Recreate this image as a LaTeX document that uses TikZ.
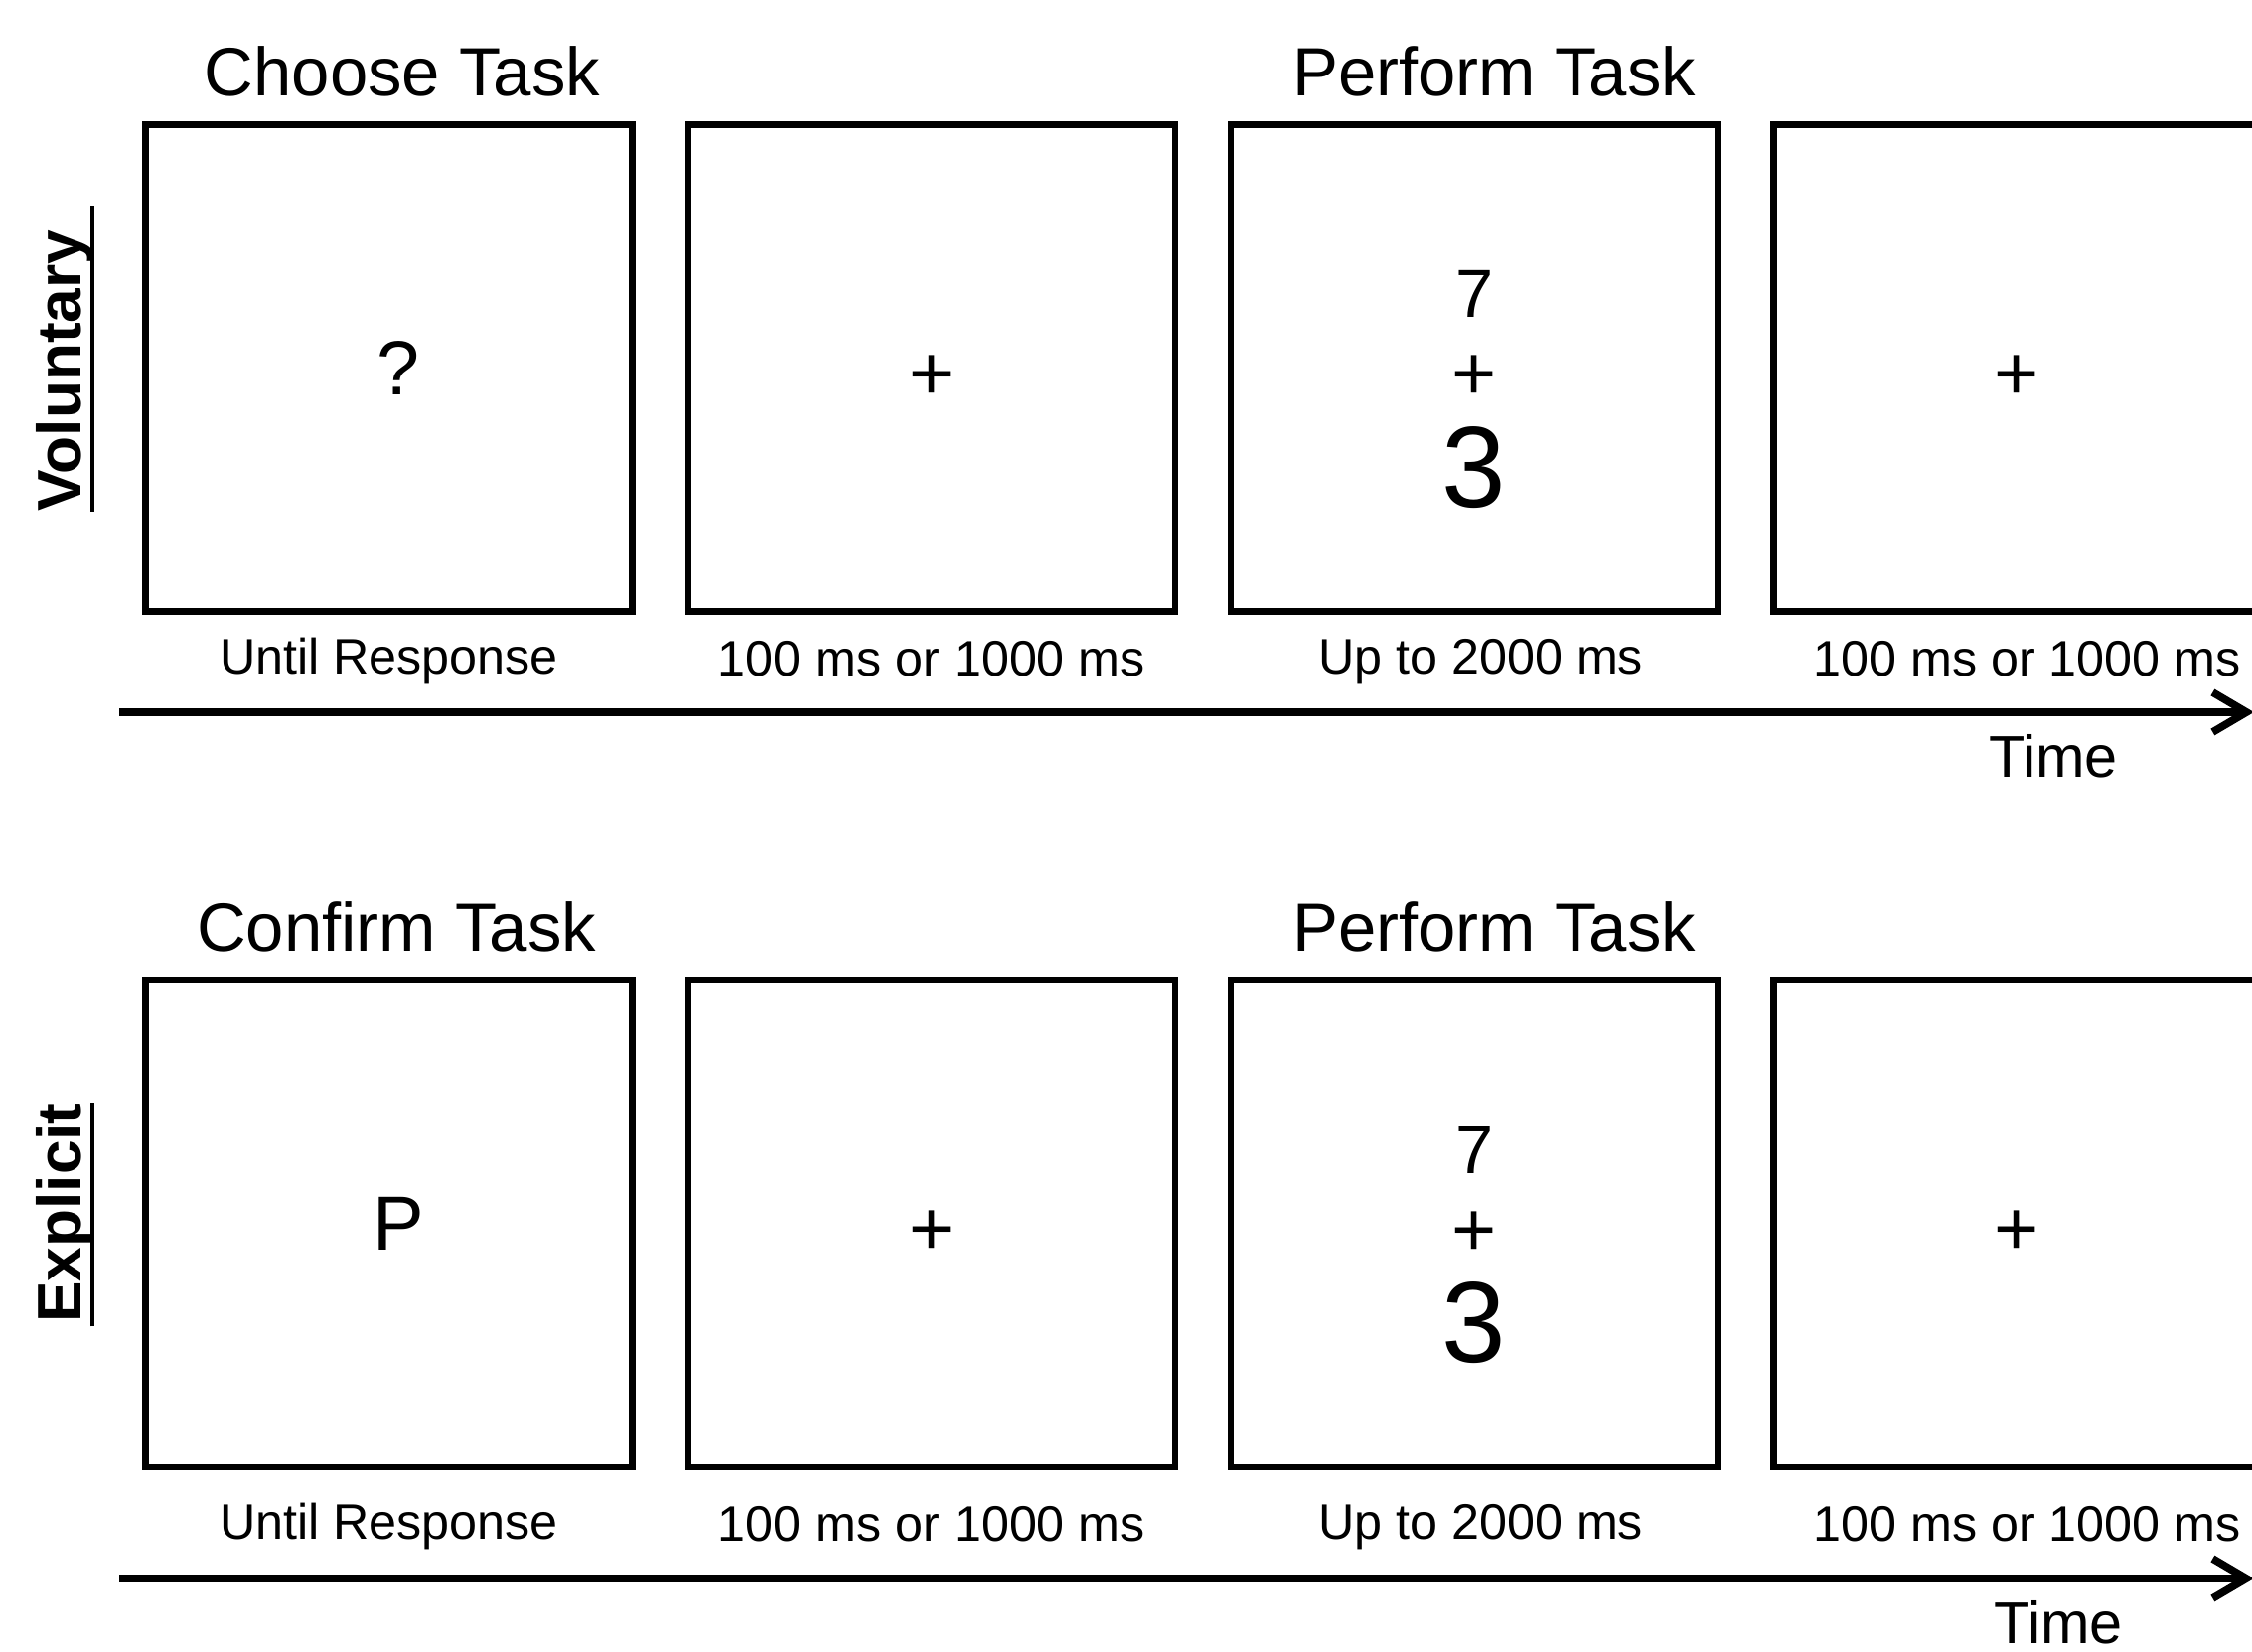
\documentclass[tikz,border=0pt]{standalone}
\usepackage{fontspec}
\setmainfont{Liberation Sans}
\usetikzlibrary{arrows.meta,positioning,calc}
\tikzset{>={Straight Barb[length=3.4mm,width=4mm]}}

\begin{document}
\begin{tikzpicture}[
    every node/.style={inner sep=0pt},
    screen/.style={draw, line width=1.8pt, minimum size=4.9cm},
    phase/.style={font=\fontsize{19.6}{23}\selectfont, anchor=base},
    dur/.style={font=\fontsize{14.3}{17}\selectfont, anchor=base},
    timelab/.style={font=\fontsize{16.9}{20}\selectfont, anchor=base},
    cond/.style={font=\fontsize{17.7}{21}\selectfont\bfseries, rotate=90, anchor=base},
    uline/.style={line width=1.4pt},
    stim/.style={font=\fontsize{22}{26}\selectfont},
    digit/.style={font=\fontsize{19.5}{23}\selectfont},
    bigdigit/.style={font=\fontsize{33}{38}\selectfont},
    timeline/.style={->, line width=2.2pt}
  ]
    % Page size and spacing
    \useasboundingbox (0,0) rectangle (22.67,16.62);
    \def\gap{0.50cm}

    % Voluntary trial
    \node[cond] (vol) at (0.81,12.89) {Voluntary};
    \draw[uline] ($(vol.base west)+(0.12,0)$) -- ($(vol.base east)+(0.12,0.24)$);
    \node[screen] (v1) at (3.915,12.915) {};
    \node[screen, right=\gap of v1] (v2) {};
    \node[screen, right=\gap of v2] (v3) {};
    \node[screen, right=\gap of v3] (v4) {};

    \node[stim] (v1q) at ($(v1)+(0.09,0)$) {?};
    \node[stim] (v2f) at ($(v2)+(0,-0.095)$) {+};
    \node[digit] (v3a) at ($(v3)+(0,0.75)$) {7};
    \node[stim] (v3b) at ($(v3)+(0,-0.095)$) {+};
    \node[bigdigit] (v3c) at ($(v3)+(0,-1.0)$) {3};
    \node[stim] (v4f) at ($(v4)+(0,-0.095)$) {+};

    \node[phase] (choose) at ($(v1.north)+(0.135,0.26)$) {Choose Task};
    \node[phase] (vperf) at ($(v3.north)+(0.2,0.26)$) {Perform Task};

    \node[dur] (v1d) at ($(v1.south)+(0,-0.6)$) {Until Response};
    \node[dur] (v2d) at ($(v2.south)+(0,-0.62)$) {100 ms or 1000 ms};
    \node[dur] (v3d) at ($(v3.south)+(0.065,-0.6)$) {Up to 2000 ms};
    \node[dur] (v4d) at ($(v4.south)+(0.1,-0.62)$) {100 ms or 1000 ms};

    \coordinate (vt0) at (1.20,9.45);
    \coordinate (vt1) at (22.69,9.45);
    \draw[timeline] (vt0) -- (vt1);
    \node[timelab] (vtime) at (20.67,8.80) {Time};

    % Explicit trial
    \node[cond] (expl) at (0.81,4.41) {Explicit};
    \draw[uline] ($(expl.base west)+(0.12,-0.03)$) -- ($(expl.base east)+(0.12,0)$);
    \node[screen] (e1) at (3.915,4.30) {};
    \node[screen, right=\gap of e1] (e2) {};
    \node[screen, right=\gap of e2] (e3) {};
    \node[screen, right=\gap of e3] (e4) {};

    \node[stim] (e1p) at ($(e1)+(0.1,0)$) {P};
    \node[stim] (e2f) at ($(e2)+(0,-0.095)$) {+};
    \node[digit] (e3a) at ($(e3)+(0,0.74)$) {7};
    \node[stim] (e3b) at ($(e3)+(0,-0.1)$) {+};
    \node[bigdigit] (e3c) at ($(e3)+(0,-1.0)$) {3};
    \node[stim] (e4f) at ($(e4)+(0,-0.095)$) {+};

    \node[phase] (confirm) at ($(e1.north)+(0.075,0.26)$) {Confirm Task};
    \node[phase] (eperf) at ($(e3.north)+(0.2,0.26)$) {Perform Task};

    \node[dur] (e1d) at ($(e1.south)+(0,-0.69)$) {Until Response};
    \node[dur] (e2d) at ($(e2.south)+(0,-0.71)$) {100 ms or 1000 ms};
    \node[dur] (e3d) at ($(e3.south)+(0.065,-0.69)$) {Up to 2000 ms};
    \node[dur] (e4d) at ($(e4.south)+(0.1,-0.71)$) {100 ms or 1000 ms};

    \coordinate (et0) at (1.20,0.73);
    \coordinate (et1) at (22.69,0.73);
    \draw[timeline] (et0) -- (et1);
    \node[timelab] (etime) at (20.72,0.08) {Time};
\end{tikzpicture}
\end{document}
